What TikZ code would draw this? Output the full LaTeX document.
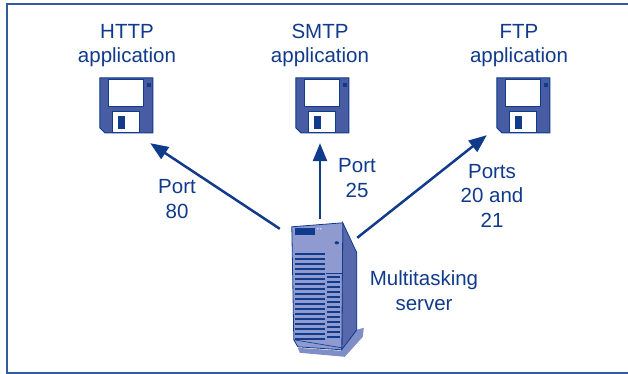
\documentclass[tikz,border=0pt]{standalone}
\usepackage{fontspec}
\setmainfont{Liberation Sans}
\usetikzlibrary{arrows.meta, calc}

\definecolor{inkblue}{RGB}{16,58,138}
\definecolor{diskblue}{RGB}{72,92,164}
\definecolor{caseface}{RGB}{142,154,208}
\definecolor{caseside}{RGB}{88,104,172}
\definecolor{caseshade}{RGB}{128,142,200}
\definecolor{frameblue}{RGB}{52,90,158}

\tikzset{
    % 3.5in floppy, drawn from its top left corner
    floppy/.pic={
        \draw[inkblue, fill=diskblue, line width=1pt] (0,0) -- (53,0) -- (53,55) -- (5,55) -- (0,50) -- cycle;
        \draw[inkblue, fill=white, line width=0.8pt] (9,2) rectangle (44,29);
        \fill[inkblue] (47,5) rectangle (51,9);
        \draw[inkblue, fill=white, line width=0.8pt] (13,34) rectangle (40,55);
        \fill[inkblue] (18,38) rectangle (25,51);
    },
    % tower server, drawn from the top left of its box
    tower/.pic={
        \fill[caseshade] (6,125) -- (50,128) -- (65,107) -- (72,105) -- (71,114) -- (53,134) -- (8,130) -- cycle;
        \draw[inkblue, fill=caseside, line width=0.8pt] (51,0) -- (65,30) -- (65,107) -- (50,127) -- cycle;
        \draw[inkblue, fill=caseface, line width=0.8pt] (0,4) -- (51,0) -- (50,127) -- (6,124) -- (2,117) -- cycle;
        \draw[inkblue, line width=0.6pt] (2,117) -- (50,125);
        \fill[inkblue] (3,5) rectangle (23,12);
        \fill[white!80!caseface] (26,6) circle (0.8) (29,6) circle (0.8);
        \fill[inkblue] (45,20) ellipse (2.2 and 1.6);
        \foreach \y in {30,35,...,115}
            \fill[inkblue] (3,\y) rectangle (33,\y+2.6);
        \foreach \y in {53,58,...,113}
            \fill[inkblue] (35,\y) rectangle (48,\y+2.6);
        \draw[inkblue, line width=0.5pt] (34,50) -- (50,50);
    }
}

\begin{document}
\begin{tikzpicture}[
        x=1pt, y=-1pt,
        lbl/.style={font=\fontsize{20.5}{24.5}\selectfont, text=inkblue, align=center, inner sep=0pt, anchor=base},
        diskbox/.style={minimum width=53pt, minimum height=55pt, inner sep=0pt},
        serverbox/.style={minimum width=65pt, minimum height=126pt, inner sep=0pt},
        conn/.style={-{Triangle[length=18pt, width=14pt]}, line width=2.5pt, draw=inkblue},
        frame/.style={draw=frameblue, line width=2pt}
    ]
    \useasboundingbox (0,0) rectangle (628,374);
    \draw[frame] (628,4.5) -- (7,4.5) -- (7,372.5) -- (628,372.5);

    % --- applications (label anchor = baseline of the last line) ---
    \node[diskbox] (http) at (126.5,105.5) {};
    \node[diskbox] (smtp) at (322.5,105.5) {};
    \node[diskbox] (ftp)  at (523.5,105.5) {};
    \foreach \d in {http, smtp, ftp}
        \pic at (\d.north west) {floppy};

    \node[lbl] (httplbl) at (127,63) {HTTP\\application};
    \node[lbl] (smtplbl) at (320,63) {SMTP\\application};
    \node[lbl] (ftplbl)  at (519,63) {FTP\\application};

    % --- server ---
    \node[serverbox] (server) at (324.5,286) {};
    \pic at (server.north west) {tower};
    \node[lbl] (serverlbl) at (424,310) {Multitasking\\server};

    % --- ports ---
    \draw[conn] ($(server.north west)+(-12,6)$) -- ($(http.south east)+(-3,10)$);
    \node[lbl] (p80) at (177,218) {Port\\80};
    \draw[conn] ($(server.north)+(-4.5,-4)$) -- ($(smtp.south)+(-2.5,10)$);
    \node[lbl] (p25) at (357,197) {Port\\25};
    \draw[conn] ($(server.north east)+(0,15)$) -- ($(ftp.south west)+(-10,2)$);
    \node[lbl] (p2021) at (492,227) {Ports\\20 and\\21};
\end{tikzpicture}
\end{document}
